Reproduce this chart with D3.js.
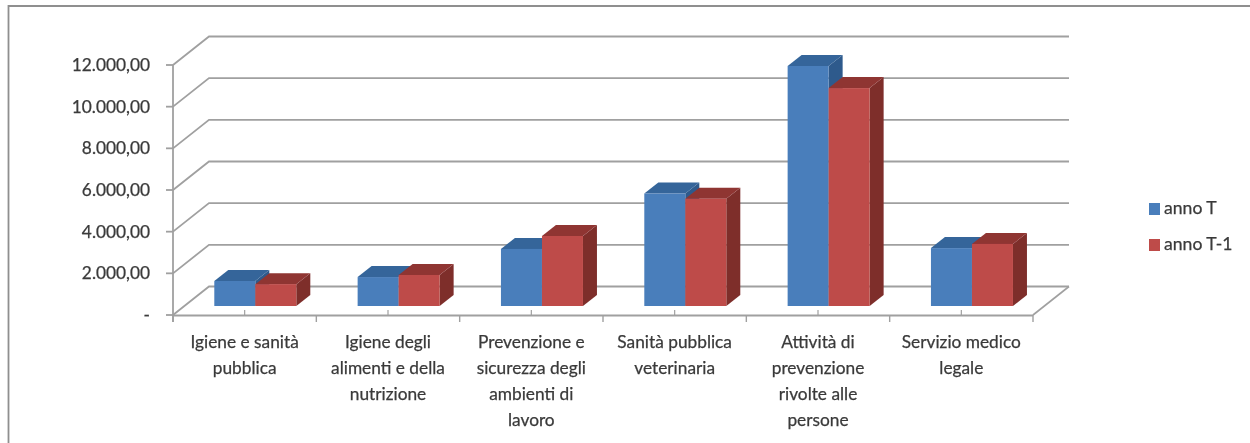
<!DOCTYPE html>
<html><head><meta charset="utf-8">
<style>html,body{margin:0;padding:0;background:#fff}svg{display:block}text{font-family:Lato,"Open Sans",sans-serif;fill:#3a3a3a;stroke:#3a3a3a;stroke-width:.25}</style>
<script src="https://cdn.jsdelivr.net/npm/d3@7/dist/d3.min.js"></script>
</head><body><svg id="c" width="1250" height="443"></svg>
<script>
const categories=[["Igiene e sanità","pubblica"],["Igiene degli","alimenti e della","nutrizione"],["Prevenzione e","sicurezza degli","ambienti di","lavoro"],["Sanità pubblica","veterinaria"],["Attività di","prevenzione","rivolte alle","persone"],["Servizio medico","legale"]];
const annoT=[1200,1390,2740,5400,11520,2780];
const annoT1=[1050,1490,3360,5150,10460,2980];
const seriesNames=["anno T","anno T-1"];
const tickValues=[0,2000,4000,6000,8000,10000,12000];
const tickLabels=["-","2.000,00","4.000,00","6.000,00","8.000,00","10.000,00","12.000,00"];
const svg=d3.select("#c");
const defs=svg.append("defs");
defs.append("filter").attr("id","soft").attr("x",-0.02).attr("y",-0.02).attr("width",1.04).attr("height",1.04).append("feGaussianBlur").attr("stdDeviation",0.6);
const root=svg.append("g").attr("filter","url(#soft)");
root.append("path").attr("d","M8.5,443V6H1250").attr("fill","none").attr("stroke","#8f8f8f").attr("stroke-width",1.8);
const y=d3.scaleLinear().domain([0,12000]).range([315,65]);
const x=d3.scaleBand().domain(d3.range(6)).range([173,1033]);
const depthX=36,depthY=28.5;
const grid="#a0a0a0";
const g=root.append("g");
tickValues.forEach((v,i)=>{
  g.append("path").attr("d",`M${x.range()[0]},${y(v)}L${x.range()[0]+depthX},${y(v)-depthY}H${x.range()[1]+depthX}`).attr("fill","none").attr("stroke",grid).attr("stroke-width",1.8);
  g.append("line").attr("x1",166).attr("x2",173).attr("y1",y(v)).attr("y2",y(v)).attr("stroke",grid).attr("stroke-width",1.8);
  root.append("text").attr("x",150).attr("y",y(v)+6).attr("text-anchor","end").attr("font-size",17.3).text(tickLabels[i]);
});
g.append("line").attr("x1",173).attr("x2",173).attr("y1",y(12000)).attr("y2",322).attr("stroke",grid).attr("stroke-width",1.8);
g.append("line").attr("x1",173).attr("x2",1033).attr("y1",315.5).attr("y2",315.5).attr("stroke",grid).attr("stroke-width",1.8);
g.append("line").attr("x1",1033).attr("x2",1069).attr("y1",315).attr("y2",286.5).attr("stroke",grid).attr("stroke-width",1.6);
d3.range(7).forEach(i=>{const px=173+i*x.step();g.append("line").attr("x1",px).attr("x2",px).attr("y1",315).attr("y2",322).attr("stroke",grid).attr("stroke-width",1.4);});
categories.forEach((c,i)=>{const px=x(i)+x.step()/2;g.append("line").attr("x1",px).attr("x2",px).attr("y1",310).attr("y2",315).attr("stroke",grid).attr("stroke-width",1.2);
  const t=root.append("text").attr("text-anchor","middle").attr("font-size",17.3);
  c.forEach((l,k)=>t.append("tspan").attr("x",px).attr("y",348+k*26).text(l));
});
const colors=[{f:"#4a7ebb",t:"#34659a",s:"#2f5a8c"},{f:"#be4b48",t:"#8f3533",s:"#7e2e2c"}];
const barW=41,dx=14,dy=11,base=306,pxPerUnit=(y(0)-y(12000))/12000,start=30.8+10.5;
const bars=root.append("g");
const vals=[annoT,annoT1];
categories.forEach((c,i)=>{[0,1].forEach(s=>{
  const v=vals[s][i],x0=x(i)+start+s*barW,top=base-v*pxPerUnit,col=colors[s];
  const b=bars.append("g");
  b.append("path").attr("d",`M${x0+barW},${top}l${dx},${-dy}V${base-dy}l${-dx},${dy}Z`).attr("fill",col.s);
  b.append("path").attr("d",`M${x0},${top}l${dx},${-dy}h${barW}l${-dx},${dy}Z`).attr("fill",col.t);
  b.append("rect").attr("x",x0).attr("y",top).attr("width",barW).attr("height",base-top).attr("fill",col.f);
});});
seriesNames.forEach((n,i)=>{const yy=[209,245][i];
  root.append("rect").attr("x",1149).attr("y",yy-6).attr("width",11).attr("height",12).attr("fill",colors[i].f);
  root.append("text").attr("x",1164).attr("y",yy+5).attr("font-size",17.6).text(n);
});
</script></body></html>
